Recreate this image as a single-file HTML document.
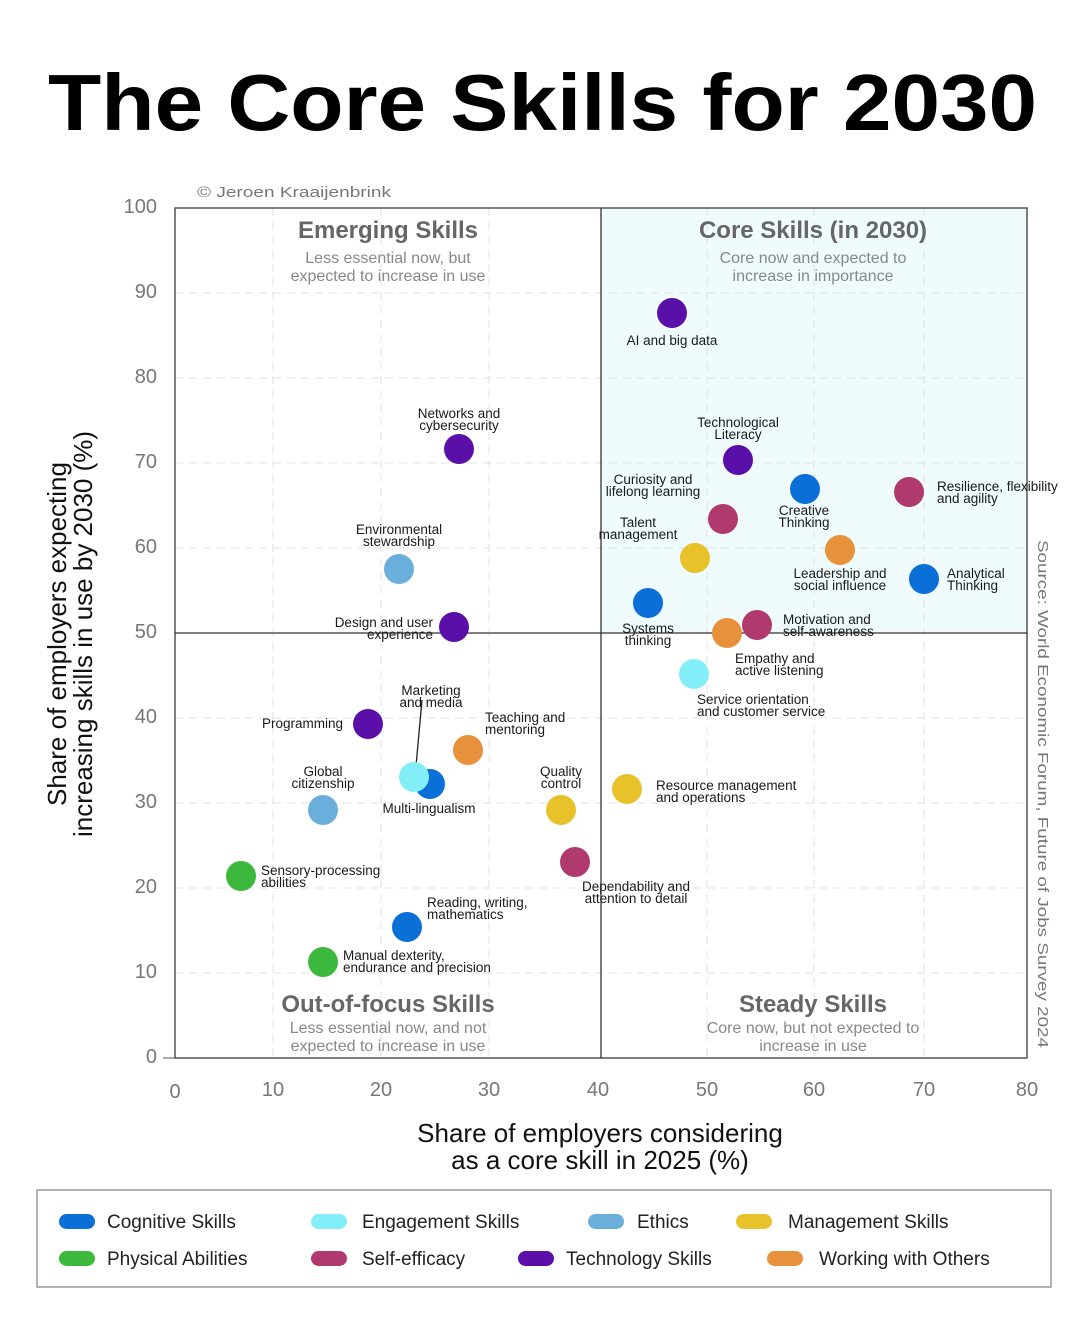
<!DOCTYPE html>
<html><head><meta charset="utf-8"><style>
html,body{margin:0;padding:0;background:#fff;width:1080px;height:1319px;overflow:hidden}
svg{display:block;font-family:"Liberation Sans","DejaVu Sans",sans-serif}
.l{font-size:13.5px;fill:#1a1a1a}
.tk{font-size:20px;fill:#777}
</style></head><body>
<svg width="1080" height="1319" viewBox="0 0 1080 1319">
<text x="48" y="130" font-size="80" font-weight="bold" fill="#000" textLength="989" lengthAdjust="spacingAndGlyphs">The Core Skills for 2030</text>
<text x="197" y="197" font-size="15" fill="#777" textLength="194" lengthAdjust="spacingAndGlyphs">© Jeroen Kraaijenbrink</text>
<rect x="601" y="208" width="426" height="425" fill="#effbfc"/>
<g stroke="#e2e2e2" stroke-width="1" stroke-dasharray="8,6">
<line x1="273" y1="208" x2="273" y2="1058"/><line x1="381" y1="208" x2="381" y2="1058"/><line x1="489" y1="208" x2="489" y2="1058"/>
<line x1="707" y1="208" x2="707" y2="1058"/><line x1="814" y1="208" x2="814" y2="1058"/><line x1="924" y1="208" x2="924" y2="1058"/>
<line x1="175" y1="293" x2="1027" y2="293"/><line x1="175" y1="378" x2="1027" y2="378"/><line x1="175" y1="463" x2="1027" y2="463"/><line x1="175" y1="548" x2="1027" y2="548"/>
<line x1="175" y1="718" x2="1027" y2="718"/><line x1="175" y1="803" x2="1027" y2="803"/><line x1="175" y1="888" x2="1027" y2="888"/><line x1="175" y1="973" x2="1027" y2="973"/>
</g>
<rect x="175" y="208" width="852" height="850" fill="none" stroke="#555" stroke-width="1.5"/>
<line x1="601" y1="208" x2="601" y2="1058" stroke="#333" stroke-width="1.3"/>
<line x1="175" y1="633" x2="1027" y2="633" stroke="#333" stroke-width="1.3"/>
<line x1="163" y1="1058" x2="175" y2="1058" stroke="#555"/>
<g class="tk" text-anchor="end">
<text x="157" y="213">100</text><text x="157" y="298">90</text><text x="157" y="383">80</text><text x="157" y="468">70</text><text x="157" y="553">60</text><text x="157" y="638">50</text><text x="157" y="723">40</text><text x="157" y="808">30</text><text x="157" y="893">20</text><text x="157" y="978">10</text><text x="157" y="1063">0</text>
</g>
<g class="tk" text-anchor="middle">
<text x="175" y="1098">0</text><text x="273" y="1096">10</text><text x="381" y="1096">20</text><text x="489" y="1096">30</text><text x="598" y="1096">40</text><text x="707" y="1096">50</text><text x="814" y="1096">60</text><text x="924" y="1096">70</text><text x="1027" y="1096">80</text>
</g>
<g font-size="26" fill="#111" text-anchor="middle">
<text x="600" y="1142">Share of employers considering</text>
<text x="600" y="1169">as a core skill in 2025 (%)</text>
<text transform="translate(66,634) rotate(-90)">Share of employers expecting</text>
<text transform="translate(92,634) rotate(-90)">increasing skills in use by 2030 (%)</text>
</g>
<text transform="translate(1038,540) rotate(90)" font-size="15" fill="#777" textLength="508" lengthAdjust="spacingAndGlyphs">Source: World Economic Forum, Future of Jobs Survey 2024</text>
<g text-anchor="middle">
<text x="388" y="238" font-size="24" font-weight="bold" fill="#666">Emerging Skills</text>
<text x="388" y="263" font-size="16" fill="#888">Less essential now, but</text>
<text x="388" y="281" font-size="16" fill="#888">expected to increase in use</text>
<text x="813" y="238" font-size="24" font-weight="bold" fill="#666">Core Skills (in 2030)</text>
<text x="813" y="263" font-size="16" fill="#888">Core now and expected to</text>
<text x="813" y="281" font-size="16" fill="#888">increase in importance</text>
<text x="388" y="1012" font-size="24" font-weight="bold" fill="#666">Out-of-focus Skills</text>
<text x="388" y="1033" font-size="16" fill="#888">Less essential now, and not</text>
<text x="388" y="1051" font-size="16" fill="#888">expected to increase in use</text>
<text x="813" y="1012" font-size="24" font-weight="bold" fill="#666">Steady Skills</text>
<text x="813" y="1033" font-size="16" fill="#888">Core now, but not expected to</text>
<text x="813" y="1051" font-size="16" fill="#888">increase in use</text>
</g>
<line x1="416" y1="766" x2="422" y2="700" stroke="#222" stroke-width="1.3"/>
<g>
<circle cx="672" cy="313" r="15" fill="#5a0fa8"/>
<circle cx="459" cy="449" r="15" fill="#5a0fa8"/>
<circle cx="738" cy="460" r="15" fill="#5a0fa8"/>
<circle cx="723" cy="519" r="15" fill="#b03a6e"/>
<circle cx="805" cy="489" r="15" fill="#0a6fd6"/>
<circle cx="909" cy="492" r="15" fill="#b03a6e"/>
<circle cx="695" cy="558" r="15" fill="#e8c22a"/>
<circle cx="840" cy="550" r="15" fill="#e8913c"/>
<circle cx="924" cy="579" r="15" fill="#0a6fd6"/>
<circle cx="648" cy="603" r="15" fill="#0a6fd6"/>
<circle cx="757" cy="625" r="15" fill="#b03a6e"/>
<circle cx="727" cy="633" r="15" fill="#e8913c"/>
<circle cx="694" cy="674" r="15" fill="#84eef8"/>
<circle cx="399" cy="569" r="15" fill="#6aaedc"/>
<circle cx="454" cy="627" r="15" fill="#5a0fa8"/>
<circle cx="368" cy="724" r="15" fill="#5a0fa8"/>
<circle cx="468" cy="750" r="15" fill="#e8913c"/>
<circle cx="430" cy="784" r="15" fill="#0a6fd6"/>
<circle cx="414" cy="777" r="15" fill="#84eef8"/>
<circle cx="323" cy="810" r="15" fill="#6aaedc"/>
<circle cx="561" cy="810" r="15" fill="#e8c22a"/>
<circle cx="627" cy="789" r="15" fill="#e8c22a"/>
<circle cx="575" cy="862" r="15" fill="#b03a6e"/>
<circle cx="241" cy="876" r="15" fill="#3cb93c"/>
<circle cx="407" cy="927" r="15" fill="#0a6fd6"/>
<circle cx="323" cy="962" r="15" fill="#3cb93c"/>
</g>
<g class="l">
<text x="672" y="345" text-anchor="middle">AI and big data</text>
<text x="459" y="418" text-anchor="middle">Networks and</text><text x="459" y="430" text-anchor="middle">cybersecurity</text>
<text x="738" y="427" text-anchor="middle">Technological</text><text x="738" y="439" text-anchor="middle">Literacy</text>
<text x="653" y="484" text-anchor="middle">Curiosity and</text><text x="653" y="496" text-anchor="middle">lifelong learning</text>
<text x="804" y="515" text-anchor="middle">Creative</text><text x="804" y="527" text-anchor="middle">Thinking</text>
<text x="937" y="491">Resilience, flexibility</text><text x="937" y="503">and agility</text>
<text x="638" y="527" text-anchor="middle">Talent</text><text x="638" y="539" text-anchor="middle">management</text>
<text x="840" y="578" text-anchor="middle">Leadership and</text><text x="840" y="590" text-anchor="middle">social influence</text>
<text x="947" y="578">Analytical</text><text x="947" y="590">Thinking</text>
<text x="648" y="633" text-anchor="middle">Systems</text><text x="648" y="645" text-anchor="middle">thinking</text>
<text x="783" y="624">Motivation and</text><text x="783" y="636">self-awareness</text>
<text x="735" y="663">Empathy and</text><text x="735" y="675">active listening</text>
<text x="697" y="704">Service orientation</text><text x="697" y="716">and customer service</text>
<text x="399" y="534" text-anchor="middle">Environmental</text><text x="399" y="546" text-anchor="middle">stewardship</text>
<text x="433" y="627" text-anchor="end">Design and user</text><text x="433" y="639" text-anchor="end">experience</text>
<text x="343" y="728" text-anchor="end">Programming</text>
<text x="431" y="695" text-anchor="middle">Marketing</text><text x="431" y="707" text-anchor="middle">and media</text>
<text x="485" y="722">Teaching and</text><text x="485" y="734">mentoring</text>
<text x="323" y="776" text-anchor="middle">Global</text><text x="323" y="788" text-anchor="middle">citizenship</text>
<text x="429" y="813" text-anchor="middle">Multi-lingualism</text>
<text x="561" y="776" text-anchor="middle">Quality</text><text x="561" y="788" text-anchor="middle">control</text>
<text x="656" y="790">Resource management</text><text x="656" y="802">and operations</text>
<text x="636" y="891" text-anchor="middle">Dependability and</text><text x="636" y="903" text-anchor="middle">attention to detail</text>
<text x="261" y="875">Sensory-processing</text><text x="261" y="887">abilities</text>
<text x="427" y="907">Reading, writing,</text><text x="427" y="919">mathematics</text>
<text x="343" y="960">Manual dexterity,</text><text x="343" y="972">endurance and precision</text>
</g>
<rect x="37" y="1190" width="1014" height="97" fill="#fff" stroke="#999" stroke-width="1.5"/>
<g font-size="19" fill="#222">
<rect x="59" y="1214" width="36" height="15" rx="7.5" fill="#0a6fd6"/><text x="107" y="1228">Cognitive Skills</text>
<rect x="311" y="1214" width="36" height="15" rx="7.5" fill="#84eef8"/><text x="362" y="1228">Engagement Skills</text>
<rect x="588" y="1214" width="36" height="15" rx="7.5" fill="#6aaedc"/><text x="637" y="1228">Ethics</text>
<rect x="736" y="1214" width="36" height="15" rx="7.5" fill="#e8c22a"/><text x="788" y="1228">Management Skills</text>
<rect x="59" y="1251" width="36" height="15" rx="7.5" fill="#3cb93c"/><text x="107" y="1265">Physical Abilities</text>
<rect x="311" y="1251" width="36" height="15" rx="7.5" fill="#b03a6e"/><text x="362" y="1265">Self-efficacy</text>
<rect x="518" y="1251" width="36" height="15" rx="7.5" fill="#5a0fa8"/><text x="566" y="1265">Technology Skills</text>
<rect x="767" y="1251" width="36" height="15" rx="7.5" fill="#e8913c"/><text x="819" y="1265">Working with Others</text>
</g>
</svg>
</body></html>
